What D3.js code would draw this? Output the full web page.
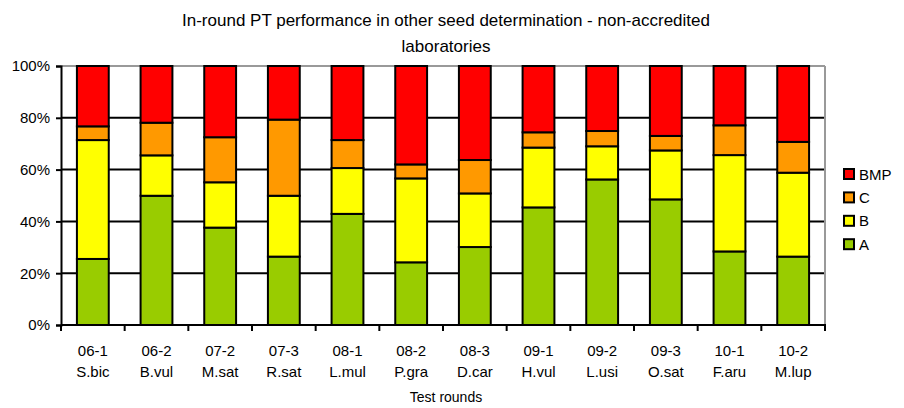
<!DOCTYPE html>
<html><head><meta charset="utf-8">
<script src="https://cdn.jsdelivr.net/npm/d3@7"></script>
<style>body{margin:0;background:#fff}svg{display:block}text{font-family:"Liberation Sans",Arial,sans-serif;fill:#000}</style>
</head><body>
<svg id="c" width="904" height="408"></svg>
<script>
const rounds = ["06-1","06-2","07-2","07-3","08-1","08-2","08-3","09-1","09-2","09-3","10-1","10-2"];
const species = ["S.bic","B.vul","M.sat","R.sat","L.mul","P.gra","D.car","H.vul","L.usi","O.sat","F.aru","M.lup"];
const seriesNames = ["A","B","C","BMP"];
const A   = [25.5, 49.9, 37.6, 26.4, 42.9, 24.2, 30.1, 45.4, 56.2, 48.5, 28.4, 26.4];
const B   = [45.9, 15.6, 17.5, 23.5, 17.7, 32.4, 20.7, 23.1, 12.8, 18.9, 37.2, 32.4];
const C   = [ 5.3, 12.6, 17.4, 29.4, 10.8,  5.4, 12.9,  5.9,  5.9,  5.6, 11.5, 11.9];
const BMP = [23.3, 21.9, 27.5, 20.7, 28.6, 38.0, 36.3, 25.6, 25.1, 27.0, 22.9, 29.3];
const yTicks = [0,20,40,60,80,100];
const colors = {A:"#99CC00", B:"#FFFF00", C:"#FF9900", BMP:"#FF0000"};

const data = rounds.map((r,i)=>({round:r, A:A[i], B:B[i], C:C[i], BMP:BMP[i]}));
const stack = d3.stack().keys(seriesNames).offset(d3.stackOffsetExpand)(data);

const svg = d3.select("#c");
const L=61, R=825, T=66, Bt=325;
const x = d3.scaleBand().domain(rounds).range([L,R]).paddingInner(0.5).paddingOuter(0.25);
const xb = d3.scaleBand().domain(rounds).range([L,R]);
const y = d3.scaleLinear().domain([0,1]).range([Bt,T]);

// gridlines
svg.append("g").selectAll("line").data(yTicks.filter(t=>t>0 && t<100)).join("line")
  .attr("x1",L).attr("x2",R).attr("y1",d=>y(d/100)).attr("y2",d=>y(d/100))
  .attr("stroke","#000").attr("stroke-width",2);
// top and right border (gray)
svg.append("line").attr("x1",L).attr("x2",R).attr("y1",T).attr("y2",T).attr("stroke","#999").attr("stroke-width",2);
svg.append("line").attr("x1",R).attr("x2",R).attr("y1",T).attr("y2",Bt).attr("stroke","#999").attr("stroke-width",2);

// bars
svg.append("g").selectAll("g").data(stack).join("g")
  .attr("fill",d=>colors[d.key])
  .selectAll("rect").data(d=>d).join("rect")
  .attr("x",d=>x(d.data.round)).attr("width",x.bandwidth())
  .attr("y",d=>y(d[1])).attr("height",d=>y(d[0])-y(d[1]))
  .attr("stroke","#000").attr("stroke-width",2);

// y axis
const ya = svg.append("g").attr("transform",`translate(${L},0)`)
  .call(d3.axisLeft(y).tickValues(yTicks.map(t=>t/100)).tickFormat(d=>Math.round(d*100)+"%").tickSize(5).tickPadding(6));
ya.select(".domain").attr("stroke","#000").attr("stroke-width",2);
ya.selectAll(".tick line").attr("stroke","#000").attr("stroke-width",2);
ya.selectAll("text").style("font-size","15px").attr("fill","#000");

// x axis
svg.append("line").attr("x1",L).attr("x2",R+1).attr("y1",Bt).attr("y2",Bt).attr("stroke","#000").attr("stroke-width",2);
const bounds = rounds.map(r=>xb(r)).concat([R]);
svg.append("g").selectAll("line").data(bounds).join("line")
  .attr("x1",d=>d).attr("x2",d=>d).attr("y1",Bt).attr("y2",Bt+6).attr("stroke","#000").attr("stroke-width",2);
const xl = svg.append("g").selectAll("text").data(rounds).join("text")
  .attr("x",d=>xb(d)+xb.bandwidth()/2).attr("text-anchor","middle").style("font-size","15px");
xl.append("tspan").attr("x",d=>xb(d)+xb.bandwidth()/2).attr("y",355.5).text(d=>d);
xl.append("tspan").attr("x",d=>xb(d)+xb.bandwidth()/2).attr("y",377).text((d,i)=>species[i]);

svg.append("text").attr("x",446).attr("y",402).attr("text-anchor","middle").style("font-size","14px").text("Test rounds");

// title
svg.append("text").attr("x",446).attr("y",25.5).attr("text-anchor","middle").style("font-size","17px")
  .text("In-round PT performance in other seed determination - non-accredited");
svg.append("text").attr("x",446).attr("y",51.5).attr("text-anchor","middle").style("font-size","17px")
  .text("laboratories");

// legend
const leg = svg.append("g").selectAll("g").data(seriesNames.slice().reverse()).join("g")
  .attr("transform",(d,i)=>`translate(844,${174+i*23.4})`);
leg.append("rect").attr("x",0).attr("y",-5).attr("width",10).attr("height",10)
  .attr("fill",d=>colors[d]).attr("stroke","#000").attr("stroke-width",2);
leg.append("text").attr("x",15).attr("y",5.5).style("font-size","15px").text(d=>d);
</script>
</body></html>
